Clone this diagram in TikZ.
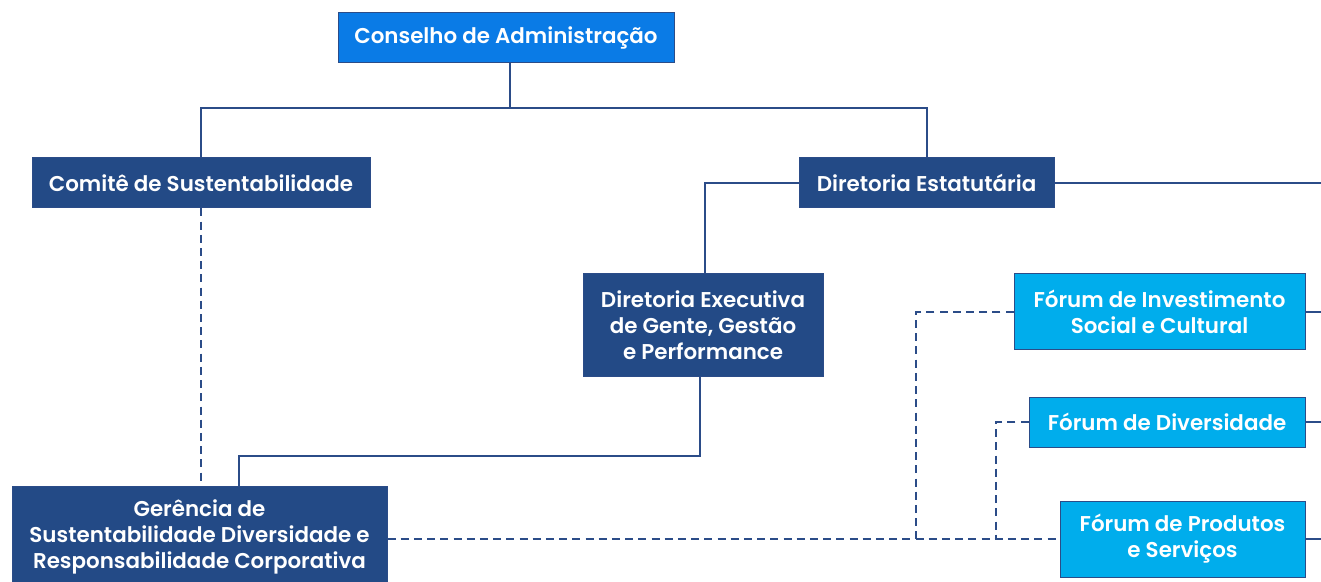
\documentclass[tikz,border=0pt]{standalone}
\usepackage{fontspec}
\setmainfont{Poppins SemiBold}
\usetikzlibrary{backgrounds}
\definecolor{navy}{HTML}{234A86}
\definecolor{linec}{HTML}{2B4C88}
\definecolor{topblue}{HTML}{0A7BE6}
\definecolor{skyblue}{HTML}{00ADEC}
\begin{document}
\begin{tikzpicture}[x=0.5pt,y=-0.5pt,
  box/.style={draw=linec,line width=0.5pt,text=white,align=center,inner sep=0pt,
    font=\fontsize{10.7}{13}\selectfont},
  darkbox/.style={box,fill=navy},
  topbox/.style={box,fill=topblue},
  forumbox/.style={box,fill=skyblue},
  link/.style={draw=linec,line width=1pt},
  dlink/.style={link,dash pattern=on 4pt off 2.6pt}]
\useasboundingbox (0,0) rectangle (1321,582);

% boxes
\node[topbox,minimum width=168pt,minimum height=25pt] (cons) at (506,38) {Conselho de Administração};
\node[darkbox,minimum width=169pt,minimum height=25pt] (com) at (201,183) {Comitê de Sustentabilidade};
\node[darkbox,minimum width=127.5pt,minimum height=25pt] (dest) at (926.5,183) {Diretoria Estatutária};
\node[darkbox,minimum width=120pt,minimum height=51pt] (dexe) at (703,325) {Diretoria Executiva\\de Gente, Gestão\\e Performance};
\node[darkbox,minimum width=187.5pt,minimum height=51pt] (ger) at (199.5,537) {Gerência de\\Sustentabilidade Diversidade e\\Responsabilidade Corporativa};
\node[forumbox,minimum width=145.5pt,minimum height=38pt] (finv) at (1159.5,312) {Fórum de Investimento\\Social e Cultural};
\node[forumbox,minimum width=138pt,minimum height=25pt] (fdiv) at (1167,422) {Fórum de Diversidade};
\node[forumbox,minimum width=122.5pt,minimum height=38pt] (fprod) at (1182.5,539) {Fórum de Produtos\\e Serviços};

% helper points
\coordinate (edge) at (1321,0);
\coordinate (split) at (510,108);
\coordinate (b1) at (916,539);
\coordinate (b2) at (996,539);

\begin{scope}[on background layer]
\fill[white] (0,0) rectangle (1321,582);
% solid reporting lines
\draw[link] ([xshift=2pt]cons.south) -- (split);
\draw[link] (com.north) |- (split) -| (dest.north);
\draw[link] (dest.west) -| ([xshift=1pt]dexe.north);
\draw[link] ([xshift=-1.5pt]dexe.south) -- ++(0,79) -| ([xshift=19.75pt]ger.north);
\draw[link] (dest.east) -- (dest.east -| edge);
\draw[link] (finv.east) -- (finv.east -| edge);
\draw[link] (fdiv.east) -- (fdiv.east -| edge);
\draw[link] (fprod.east) -- (fprod.east -| edge);
% dashed lines
\draw[dlink] (com.south) -- (com.south |- ger.north);
\draw[dlink] (fprod.west -| ger.east) -- (fprod.west);
\draw[dlink] (finv.west) -| (b1);
\draw[dlink] (fdiv.west) -| (b2);
\end{scope}
\end{tikzpicture}
\end{document}
